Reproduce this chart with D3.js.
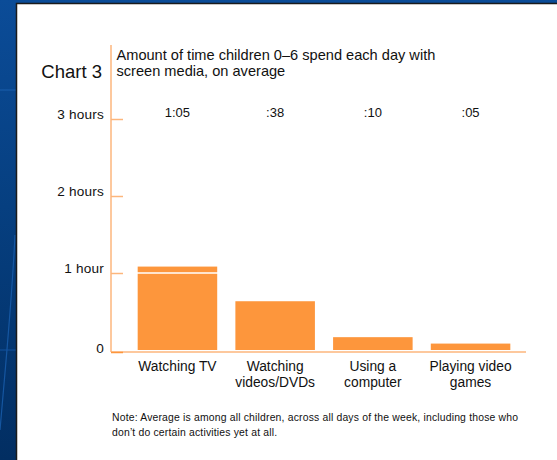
<!DOCTYPE html>
<html>
<head>
<meta charset="utf-8">
<script src="https://cdn.jsdelivr.net/npm/d3@7"></script>
<style>
  html, body { margin: 0; padding: 0; background: #0a4a94; }
  svg { display: block; }
  text { font-family: "Liberation Sans", Arial, Helvetica, sans-serif; fill: #111; }
</style>
</head>
<body>
<script>
// Screen media use, children 0-6, average minutes per day
const categories = [["Watching TV"], ["Watching", "videos/DVDs"], ["Using a", "computer"], ["Playing video", "games"]];
const minutes = [65, 38, 10, 5];
const valueLabels = ["1:05", ":38", ":10", ":05"];
const tickValues = [0, 60, 120, 180];
const tickLabels = ["0", "1 hour", "2 hours", "3 hours"];

const W = 557, H = 460;
const svg = d3.select("body").append("svg").attr("width", W).attr("height", H);

// Slide background
const defs = svg.append("defs");
const bg = defs.append("linearGradient").attr("id", "bg").attr("x1", 0).attr("y1", 0).attr("x2", 0).attr("y2", 1);
bg.append("stop").attr("offset", 0).attr("stop-color", "#0b4c98");
bg.append("stop").attr("offset", 0.45).attr("stop-color", "#063f80");
bg.append("stop").attr("offset", 1).attr("stop-color", "#022e62");
svg.append("rect").attr("width", W).attr("height", H).attr("fill", "url(#bg)");
svg.append("path").attr("d", "M15,235 C12,300 6,360 0,430").attr("fill", "none")
  .attr("stroke", "#1a5fae").attr("stroke-width", 1.2).attr("opacity", 0.8);
svg.append("line").attr("x1", 0).attr("x2", 16).attr("y1", 350).attr("y2", 350)
  .attr("stroke", "#13539f").attr("stroke-width", 1);
svg.append("line").attr("x1", 0).attr("x2", 16).attr("y1", 90).attr("y2", 90)
  .attr("stroke", "#1a5fae").attr("stroke-width", 1.5).attr("opacity", 0.7);

// White panel
svg.append("rect").attr("x", 16.5).attr("y", 3.5).attr("width", W).attr("height", H)
  .attr("fill", "#fff").attr("stroke", "#1b1b1b").attr("stroke-width", 1.5);

const orange = "#fd963c", lightOrange = "#fcb67c";

const x = d3.scaleBand().domain(d3.range(categories.length)).range([111, 537])
  .paddingInner(0.186).paddingOuter(0.273);
const y = d3.scaleLinear().domain([0, 180]).range([350, 119]);

// Bars
svg.append("g").selectAll("rect").data(minutes).join("rect")
  .attr("x", (d, i) => x(i)).attr("width", x.bandwidth())
  .attr("y", d => y(d)).attr("height", d => y(0) - y(d))
  .attr("fill", orange);

// White hour rules across the bars
svg.append("g").selectAll("line").data(tickValues.slice(1)).join("line")
  .attr("x1", 124).attr("x2", 526).attr("y1", d => y(d)).attr("y2", d => y(d))
  .attr("stroke", "#fff").attr("stroke-width", 1.5);

// Axis frame
svg.append("line").attr("x1", 111).attr("x2", 111).attr("y1", 45).attr("y2", y(0) + 2)
  .attr("stroke", lightOrange).attr("stroke-width", 1.5);
svg.append("line").attr("x1", 111).attr("x2", 526).attr("y1", y(0) + 2).attr("y2", y(0) + 2)
  .attr("stroke", lightOrange).attr("stroke-width", 1.5);

// Y axis ticks and labels
const yAxis = d3.axisLeft(y).tickValues(tickValues).tickSize(-12).tickPadding(7)
  .tickFormat((d, i) => tickLabels[i]);
const gy = svg.append("g").attr("transform", "translate(111,0)").call(yAxis);
gy.select(".domain").remove();
gy.selectAll(".tick line").attr("stroke", lightOrange).attr("stroke-width", 1.5);
gy.selectAll(".tick").filter(d => d === 0).select("line")
  .attr("transform", "translate(0,2)").attr("stroke", orange);
gy.selectAll(".tick text").attr("font-size", 13.6).attr("fill", "#111")
  .attr("dy", d => d === 0 ? "2" : "-0.5").attr("letter-spacing", 0.2)
  .attr("font-family", "'Liberation Sans', Arial, sans-serif");

// Value labels along the top
svg.append("g").selectAll("text").data(valueLabels).join("text")
  .attr("x", (d, i) => x(i) + x.bandwidth() / 2).attr("y", 117)
  .attr("text-anchor", "middle").attr("font-size", 13).text(d => d);

// Category labels
const cat = svg.append("g").selectAll("text").data(categories).join("text")
  .attr("x", (d, i) => x(i) + x.bandwidth() / 2).attr("y", 371)
  .attr("text-anchor", "middle").attr("font-size", 13.8);
cat.selectAll("tspan").data(d => d).join("tspan")
  .attr("x", function () { return this.parentNode.getAttribute("x"); })
  .attr("dy", (d, i) => i === 0 ? 0 : 16).text(d => d);

// Heading
svg.append("text").attr("x", 102).attr("y", 77.5).attr("text-anchor", "end")
  .attr("font-size", 18.5).text("Chart 3");
svg.append("text").attr("x", 116.5).attr("y", 59.5).attr("font-size", 14.6)
  .text("Amount of time children 0\u20136 spend each day with");
svg.append("text").attr("x", 116.5).attr("y", 76).attr("font-size", 14.6)
  .text("screen media, on average");

// Footnote
svg.append("text").attr("x", 112).attr("y", 421).attr("font-size", 10.4)
  .attr("letter-spacing", 0.18)
  .text("Note: Average is among all children, across all days of the week, including those who");
svg.append("text").attr("x", 112).attr("y", 436).attr("font-size", 10.4)
  .attr("letter-spacing", 0.18)
  .text("don\u2019t do certain activities yet at all.");
</script>
</body>
</html>
